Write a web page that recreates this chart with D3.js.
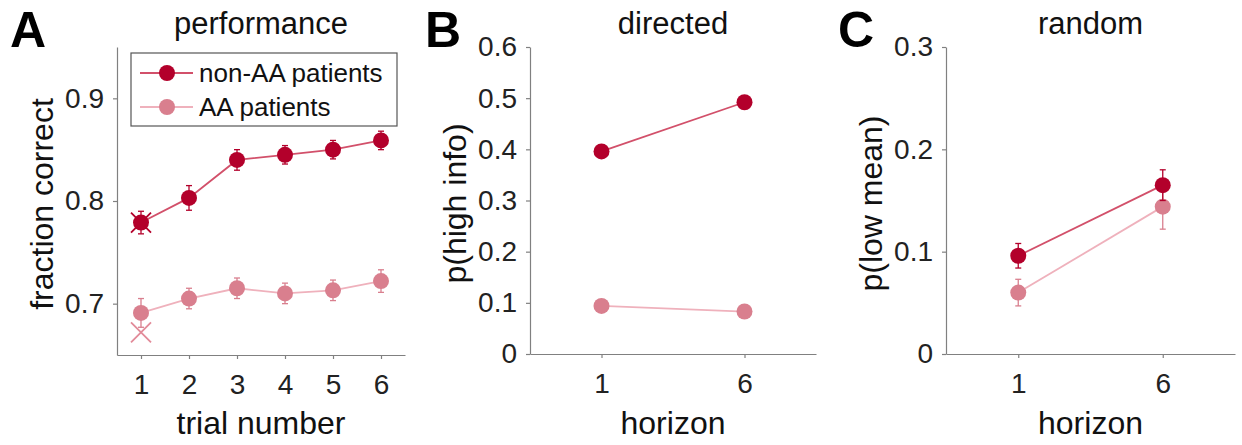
<!DOCTYPE html>
<html>
<head>
<meta charset="utf-8">
<script src="https://cdn.jsdelivr.net/npm/d3@7"></script>
<style>
  body { margin: 0; background: #fff; }
  svg { font-family: "Liberation Sans", Arial, sans-serif; }
  .tick text { fill: #222; }
</style>
</head>
<body>
<div id="chart"></div>
<script>
// data
var trials = [1, 2, 3, 4, 5, 6];
var perfNonAA = [0.779, 0.803, 0.840, 0.845, 0.850, 0.859];
var perfNonAAErr = [0.011, 0.012, 0.010, 0.009, 0.009, 0.009];
var perfAA = [0.691, 0.705, 0.715, 0.710, 0.713, 0.722];
var perfAAErr = [0.014, 0.010, 0.010, 0.010, 0.010, 0.011];
// "x" markers at trial 1
var chanceNonAA = 0.779;
var chanceAA = 0.672;

var horizons = ["1", "6"];
var directedNonAA = [0.396, 0.492];
var directedNonAAErr = [0.005, 0.006];
var directedAA = [0.094, 0.083];
var directedAAErr = [0.004, 0.006];

var randomNonAA = [0.096, 0.165];
var randomNonAAErr = [0.012, 0.015];
var randomAA = [0.060, 0.144];
var randomAAErr = [0.013, 0.022];

var seriesNames = ["non-AA patients", "AA patients"];

var darkRed = "#b3002b";
var lightRed = "#d97f8e";
var darkLine = "#d2506a";
var lightLine = "#efb1bc";
var axisGray = "#808080";

var svg = d3.select("#chart").append("svg")
  .attr("width", 1242)
  .attr("height", 445);

// one panel
function drawPanel(opt) {
  var g = svg.append("g");

  var x = d3.scaleLinear().domain(opt.xDomain).range([opt.left, opt.right]);
  var y = d3.scaleLinear().domain(opt.yDomain).range([opt.bottom, opt.top]);

  var xAxis = d3.axisBottom(x)
    .tickValues(opt.xTicks)
    .tickFormat(function(d, i) { return opt.xLabels[i]; })
    .tickSizeInner(4).tickSizeOuter(0).tickPadding(14);
  var yAxis = d3.axisLeft(y)
    .tickValues(opt.yTicks)
    .tickFormat(function(d) { return d === 0 ? "0" : d3.format(".1f")(d); })
    .tickSizeInner(4).tickSizeOuter(0).tickPadding(9);

  var gx = g.append("g").attr("transform", `translate(0, ${opt.bottom})`).call(xAxis);
  var gy = g.append("g").attr("transform", `translate(${opt.left}, 0)`).call(yAxis);
  [gx, gy].forEach(function(a) {
    a.select(".domain").attr("stroke", axisGray).attr("stroke-width", 1.2);
    a.selectAll(".tick line").attr("stroke", axisGray).attr("stroke-width", 1.2);
    a.selectAll(".tick text").attr("font-size", "28px").attr("font-family", "Liberation Sans, Arial, sans-serif");
  });
  gx.selectAll(".tick text").attr("dy", "0.75em");

  // title, labels
  g.append("text")
    .attr("x", (opt.left + opt.right) / 2)
    .attr("y", 34)
    .attr("text-anchor", "middle")
    .attr("font-size", "31px")
    .attr("fill", "#111")
    .text(opt.title);

  g.append("text")
    .attr("x", (opt.left + opt.right) / 2)
    .attr("y", 434)
    .attr("text-anchor", "middle")
    .attr("font-size", "32px")
    .attr("fill", "#111")
    .text(opt.xTitle);

  g.append("text")
    .attr("transform", `translate(${opt.left - 64}, ${(opt.top + opt.bottom) / 2 + 3}) rotate(-90)`)
    .attr("text-anchor", "middle")
    .attr("font-size", "32px")
    .attr("fill", "#111")
    .text(opt.yTitle);

  g.append("text")
    .attr("x", opt.letterX)
    .attr("y", 47)
    .attr("font-size", "50px")
    .attr("font-weight", "bold")
    .attr("fill", "#000")
    .text(opt.letter);

  var line = d3.line()
    .x(function(d) { return x(d.x); })
    .y(function(d) { return y(d.y); });

  // light series first so the dark one sits on top
  opt.series.slice().reverse().forEach(function(s) {
    var pts = s.values.map(function(v, i) { return { x: opt.xTicks[i], y: v, e: s.err[i] }; });
    var sg = g.append("g");

    sg.append("path")
      .datum(pts)
      .attr("d", line)
      .attr("fill", "none")
      .attr("stroke", s.line)
      .attr("stroke-width", 1.8);

    var eb = sg.selectAll(".err").data(pts).enter().append("g");
    eb.append("line")
      .attr("x1", d => x(d.x)).attr("x2", d => x(d.x))
      .attr("y1", d => y(d.y - d.e)).attr("y2", d => y(d.y + d.e))
      .attr("stroke", s.color).attr("stroke-width", 1.3);
    [-1, 1].forEach(function(sign) {
      eb.append("line")
        .attr("x1", d => x(d.x) - 3).attr("x2", d => x(d.x) + 3)
        .attr("y1", d => y(d.y + sign * d.e)).attr("y2", d => y(d.y + sign * d.e))
        .attr("stroke", s.color).attr("stroke-width", 1.3);
    });

    sg.selectAll("circle").data(pts).enter().append("circle")
      .attr("cx", d => x(d.x))
      .attr("cy", d => y(d.y))
      .attr("r", 8)
      .attr("fill", s.color);

    if (s.cross !== undefined) {
      var cx = x(opt.xTicks[0]), cy = y(s.cross), h = 10;
      sg.append("path")
        .attr("d", `M${cx - h},${cy - h}L${cx + h},${cy + h}M${cx - h},${cy + h}L${cx + h},${cy - h}`)
        .attr("stroke", s.color === darkRed ? darkRed : "#e28b99")
        .attr("stroke-width", 1.8)
        .attr("fill", "none");
    }
  });

  return { x: x, y: y, g: g };
}

var panelA = drawPanel({
  letter: "A", letterX: 10,
  title: "performance", xTitle: "trial number", yTitle: "fraction correct",
  left: 117, right: 405, top: 47, bottom: 355,
  xDomain: [0.5, 6.5], xTicks: trials, xLabels: trials.map(String),
  yDomain: [0.65, 0.95], yTicks: [0.7, 0.8, 0.9],
  series: [
    { values: perfNonAA, err: perfNonAAErr, color: darkRed, line: darkLine, cross: chanceNonAA },
    { values: perfAA, err: perfAAErr, color: lightRed, line: lightLine, cross: chanceAA }
  ]
});

drawPanel({
  letter: "B", letterX: 425,
  title: "directed", xTitle: "horizon", yTitle: "p(high info)",
  left: 530, right: 816, top: 47, bottom: 354,
  xDomain: [0.5, 2.5], xTicks: [1, 2], xLabels: horizons,
  yDomain: [0, 0.6], yTicks: [0, 0.1, 0.2, 0.3, 0.4, 0.5, 0.6],
  series: [
    { values: directedNonAA, err: directedNonAAErr, color: darkRed, line: darkLine },
    { values: directedAA, err: directedAAErr, color: lightRed, line: lightLine }
  ]
});

drawPanel({
  letter: "C", letterX: 838,
  title: "random", xTitle: "horizon", yTitle: "p(low mean)",
  left: 946, right: 1235, top: 47, bottom: 354,
  xDomain: [0.5, 2.5], xTicks: [1, 2], xLabels: horizons,
  yDomain: [0, 0.3], yTicks: [0, 0.1, 0.2, 0.3],
  series: [
    { values: randomNonAA, err: randomNonAAErr, color: darkRed, line: darkLine },
    { values: randomAA, err: randomAAErr, color: lightRed, line: lightLine }
  ]
});

// legend in panel A
var legend = panelA.g.append("g");
legend.append("rect")
  .attr("x", 131).attr("y", 53)
  .attr("width", 266).attr("height", 73)
  .attr("fill", "#fff")
  .attr("stroke", "#555")
  .attr("stroke-width", 1.2);

var legendColors = [[darkRed, darkLine], [lightRed, lightLine]];
seriesNames.forEach(function(name, i) {
  var ly = 73 + i * 34;
  legend.append("line")
    .attr("x1", 140).attr("x2", 193)
    .attr("y1", ly).attr("y2", ly)
    .attr("stroke", legendColors[i][1]).attr("stroke-width", 1.8);
  legend.append("circle")
    .attr("cx", 167).attr("cy", ly).attr("r", 8)
    .attr("fill", legendColors[i][0]);
  legend.append("text")
    .attr("x", 199).attr("y", ly + 9)
    .attr("font-size", "26px")
    .attr("fill", "#111")
    .text(name);
});
</script>
</body>
</html>
